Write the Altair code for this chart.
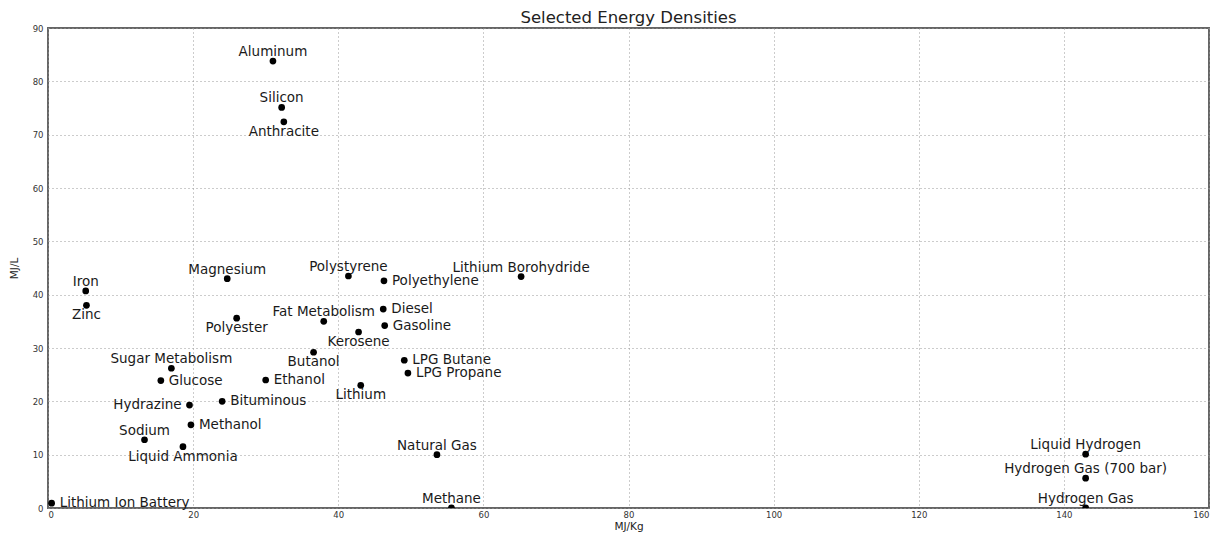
import altair as alt
import pandas as pd

names = ["Aluminum", "Silicon", "Anthracite", "Iron", "Zinc", "Magnesium", "Polyester",
         "Polystyrene", "Polyethylene", "Lithium Borohydride", "Fat Metabolism", "Diesel",
         "Gasoline", "Kerosene", "Butanol", "Sugar Metabolism", "Glucose", "Ethanol",
         "Lithium", "LPG Butane", "LPG Propane", "Hydrazine", "Bituminous", "Methanol",
         "Sodium", "Liquid Ammonia", "Lithium Ion Battery", "Natural Gas", "Methane",
         "Liquid Hydrogen", "Hydrogen Gas (700 bar)", "Hydrogen Gas"]
mj_per_kg = [31.0, 32.2, 32.5, 5.2, 5.3, 24.7, 26.0,
             41.4, 46.3, 65.2, 38.0, 46.2,
             46.4, 42.8, 36.6, 17.0, 15.55, 30.0,
             43.1, 49.1, 49.6, 19.5, 24.0, 19.7,
             13.3, 18.6, 0.5, 53.6, 55.6,
             143.0, 143.0, 143.0]
mj_per_l = [83.8, 75.1, 72.4, 40.7, 38.0, 43.0, 35.6,
            43.5, 42.6, 43.4, 35.0, 37.3,
            34.2, 33.0, 29.2, 26.2, 23.9, 24.0,
            23.0, 27.7, 25.3, 19.3, 20.0, 15.6,
            12.8, 11.5, 0.9, 10.0, 0.04,
            10.1, 5.6, 0.01]
label_side = ["above", "above", "below", "above", "below", "above", "below",
              "above", "right", "above", "above", "right",
              "right", "below", "below", "above", "right", "right",
              "below", "right", "right", "left", "right", "right",
              "above", "below", "right", "above", "above",
              "above", "above", "above"]

x_ticks = [0, 20, 40, 60, 80, 100, 120, 140, 160]
y_ticks = [0, 10, 20, 30, 40, 50, 60, 70, 80, 90]

df = pd.DataFrame({"name": names, "mjkg": mj_per_kg, "mjl": mj_per_l, "side": label_side})

FONT = "DejaVu Sans"

base = alt.Chart(df).encode(
    x=alt.X("mjkg:Q", title="MJ/Kg",
            scale=alt.Scale(domain=[0, 160], nice=False, zero=False),
            axis=alt.Axis(values=x_ticks, ticks=False, domain=False, labelPadding=2,
                          labelFontSize=8.5, labelColor="#333", labelFont=FONT,
                          titleFont=FONT, titleFontSize=10.5, titleFontWeight="normal",
                          titleColor="#222", titleY=21, titleBaseline="alphabetic",
                          grid=True, gridDash=[1, 3], gridColor="#999", gridWidth=1)),
    y=alt.Y("mjl:Q", title="MJ/L",
            scale=alt.Scale(domain=[0, 90], nice=False, zero=False),
            axis=alt.Axis(values=y_ticks, ticks=False, domain=False, labelPadding=5,
                          labelFontSize=8.5, labelColor="#333", labelFont=FONT,
                          titleFont=FONT, titleFontSize=10.5, titleFontWeight="normal",
                          titleColor="#222", titleX=-34, titleBaseline="middle",
                          grid=True, gridDash=[1, 3], gridColor="#999", gridWidth=1)),
)

points = base.mark_circle(size=45, color="black", opacity=1, clip=True)

text_style = dict(font=FONT, fontSize=13.5, color="#1a1a1a")

above = base.transform_filter(alt.datum.side == "above").mark_text(
    align="center", baseline="alphabetic", dy=-5, **text_style).encode(text="name:N")
below = base.transform_filter(alt.datum.side == "below").mark_text(
    align="center", baseline="top", dy=3, **text_style).encode(text="name:N")
right = base.transform_filter(alt.datum.side == "right").mark_text(
    align="left", baseline="middle", dx=8, **text_style).encode(text="name:N")
left = base.transform_filter(alt.datum.side == "left").mark_text(
    align="right", baseline="middle", dx=-8, **text_style).encode(text="name:N")

chart = alt.layer(points, above, below, right, left).properties(
    width=1161,
    height=480,
    title=alt.TitleParams("Selected Energy Densities", font=FONT, fontSize=16.5,
                          fontWeight="normal", color="#222", offset=-2),
    autosize=alt.AutoSizeParams(type="none"),
    padding={"left": 40, "top": 20, "right": 7, "bottom": 25},
).configure_view(stroke="#666", strokeWidth=2)

chart.save("out.html", embed_options={"renderer": "svg", "actions": False})
